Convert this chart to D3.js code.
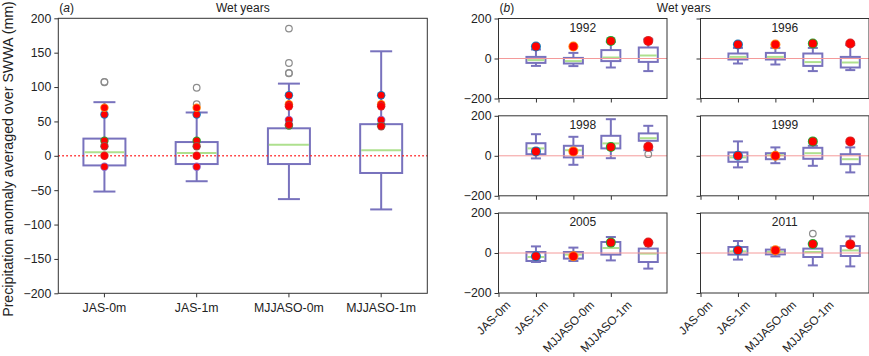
<!DOCTYPE html>
<html>
<head>
<meta charset="utf-8">
<script src="https://cdn.jsdelivr.net/npm/d3@7"></script>
<style>
    body { margin: 0; background: #fff; }
    svg { display: block; font-family: "Liberation Sans", Arial, sans-serif; }
    .frame { fill: none; stroke: #333; stroke-width: 1; }
    .tick line { stroke: #333; }
    .tick text { fill: #222; font-size: 12.3px; }
    .box, .whisker, .cap { fill: none; stroke: #7872bd; stroke-width: 2; }
    .median { stroke: #aee08e; stroke-width: 2; }
    .flier { fill: none; stroke: #8c8c8c; stroke-width: 1.2; }
    .title { font-size: 12px; fill: #222; }
</style>
</head>
<body>
<script>
    // categories and wet years
    const categories = ['JAS-0m', 'JAS-1m', 'MJJASO-0m', 'MJJASO-1m'];
    const years = [1992, 1996, 1998, 1999, 2005, 2011];

    // (a) all-years boxes: [lower whisker, Q1, median, Q3, upper whisker]
    const allBoxes = [
        [-52, -14, 5, 25, 78],
        [-37, -12, 4, 20, 63],
        [-63, -12, 16, 40, 105],
        [-78, -25, 8, 46, 152]
    ];
    const allFliers = [[107, 107.6], [99, 75], [185, 135, 120, 120.6], []];

    // observed anomaly per wet year, one value per category
    const yearObs = [
        [60, 60, 88, 88],
        [70, 70, 75, 75],
        [22, 22, 44, 45],
        [0, 0, 72, 72],
        [-16, -16, 52, 52],
        [14, 14, 45, 43]
    ];

    // (b) boxes per year and category
    const yearBoxes = [
        [[-37, -22, -8, 8, 45], [-38, -25, -13, 3, 28], [-45, -13, 5, 42, 83], [-63, -17, 15, 55, 96]],
        [[-25, -5, 8, 25, 53], [-30, -5, 8, 28, 53], [-63, -37, -18, 25, 53], [-58, -45, -20, 8, 67]],
        [[-13, 8, 37, 63, 108], [-45, -8, 28, 50, 95], [-12, 37, 62, 100, 183], [28, 75, 88, 112, 150]],
        [[-58, -30, -8, 17, 72], [-37, -17, 3, 13, 42], [-50, -15, 13, 40, 50], [-83, -42, -17, 8, 42]],
        [[-45, -40, -20, 5, 33], [-40, -28, -8, 5, 27], [-37, -8, 25, 55, 80], [-78, -45, -3, 22, 52]],
        [[-33, -8, 8, 30, 60], [-17, -7, 5, 17, 27], [-62, -20, 5, 22, 47], [-67, -15, 13, 35, 83]]
    ];
    const yearFliers = [[[], [], [], []], [[], [], [], []], [[], [], [], [8]], [[], [], [], []], [[], [], [], []], [[], [], [97], []]];

    const yTicksA = d3.range(-200, 201, 50);
    const yTicksB = [-200, 0, 200];
    const ringColors = d3.schemeCategory10;

    const svg = d3.select('body').append('svg').attr('width', 869).attr('height', 356);

    function drawBox(g, x, y, d, boxW, capW) {
        const [lo, q1, med, q3, hi] = d;
        g.append('line').attr('class', 'whisker').attr('x1', x).attr('x2', x).attr('y1', y(hi)).attr('y2', y(q3));
        g.append('line').attr('class', 'whisker').attr('x1', x).attr('x2', x).attr('y1', y(q1)).attr('y2', y(lo));
        g.append('line').attr('class', 'cap').attr('x1', x - capW / 2).attr('x2', x + capW / 2).attr('y1', y(hi)).attr('y2', y(hi));
        g.append('line').attr('class', 'cap').attr('x1', x - capW / 2).attr('x2', x + capW / 2).attr('y1', y(lo)).attr('y2', y(lo));
        g.append('rect').attr('class', 'box').attr('x', x - boxW / 2).attr('width', boxW)
            .attr('y', y(q3)).attr('height', y(q1) - y(q3));
        g.append('line').attr('class', 'median').attr('x1', x - boxW / 2 + 1).attr('x2', x + boxW / 2 - 1)
            .attr('y1', y(med)).attr('y2', y(med));
    }

    function drawDot(g, x, y, v, ring, rOut, rIn) {
        g.append('circle').attr('cx', x).attr('cy', y(v)).attr('r', rOut).attr('fill', ring);
        g.append('circle').attr('cx', x).attr('cy', y(v)).attr('r', rIn).attr('fill', '#ff0000');
    }

    // ---------- panel (a) ----------
    const ax = {left: 58.3, right: 427.3, top: 18.3, bottom: 293.3};
    const xA = d3.scaleBand().domain(categories).range([ax.left, ax.right]);
    const yA = d3.scaleLinear().domain([-200, 200]).range([ax.bottom, ax.top]);
    const gA = svg.append('g');

    gA.append('g').attr('transform', 'translate(' + ax.left + ',0)')
        .call(d3.axisLeft(yA).tickValues(yTicksA).tickSize(4).tickPadding(3))
        .call(g => g.select('.domain').remove());
    gA.append('g').attr('transform', 'translate(0,' + ax.bottom + ')')
        .call(d3.axisBottom(xA).tickSize(4).tickPadding(6))
        .call(g => g.select('.domain').remove());

    categories.forEach((c, j) => {
        const cx = xA(c) + xA.bandwidth() / 2;
        drawBox(gA, cx, yA, allBoxes[j], 42, 22);
        allFliers[j].forEach(v => {
            gA.append('circle').attr('class', 'flier').attr('cx', cx).attr('cy', yA(v)).attr('r', 3.3);
        });
    });
    gA.append('line').attr('x1', ax.left).attr('x2', ax.right).attr('y1', yA(0)).attr('y2', yA(0))
        .attr('stroke', '#ff1a1a').attr('stroke-width', 1.5).attr('stroke-dasharray', '1.5,2.5');
    categories.forEach((c, j) => {
        const cx = xA(c) + xA.bandwidth() / 2;
        years.forEach((yr, i) => drawDot(gA, cx, yA, yearObs[i][j], ringColors[i], 4.2, 3.3));
    });
    gA.append('rect').attr('class', 'frame').attr('x', ax.left).attr('y', ax.top)
        .attr('width', ax.right - ax.left).attr('height', ax.bottom - ax.top);

    const tA = gA.append('text').attr('class', 'title').attr('x', ax.left + 1).attr('y', 12);
    tA.append('tspan').text('(');
    tA.append('tspan').attr('font-style', 'italic').text('a');
    tA.append('tspan').text(')');
    gA.append('text').attr('class', 'title').attr('x', (ax.left + ax.right) / 2).attr('y', 12)
        .attr('text-anchor', 'middle').text('Wet years');

    svg.append('text').attr('transform', 'translate(13,159) rotate(-90)')
        .attr('text-anchor', 'middle').attr('font-size', '14.2px').attr('fill', '#222')
        .text('Precipitation anomaly averaged over SWWA (mm)');

    // ---------- panel (b) ----------
    const colX = [498.5, 700.5], colW = 168.5;
    const rowY = [18.5, 115.8, 213], rowH = 80;
    const gB = svg.append('g');

    years.forEach((yr, i) => {
        const col = i % 2, row = Math.floor(i / 2);
        const x0 = colX[col], y0 = rowY[row];
        const x = d3.scaleLinear().domain([0, 4.5]).range([x0, x0 + colW]);
        const y = d3.scaleLinear().domain([-200, 200]).range([y0 + rowH, y0]);
        const g = gB.append('g');

        g.append('g').attr('transform', 'translate(' + x0 + ',0)')
            .call(d3.axisLeft(y).tickValues(yTicksB).tickSize(4).tickPadding(3)
                .tickFormat(col === 0 ? d3.format('d') : ''))
            .call(s => s.select('.domain').remove());
        g.append('g').attr('transform', 'translate(0,' + (y0 + rowH) + ')')
            .call(d3.axisBottom(x).tickValues([0, 1, 2, 3]).tickSize(4).tickFormat(''))
            .call(s => s.select('.domain').remove());

        categories.forEach((c, j) => {
            drawBox(g, x(j + 1), y, yearBoxes[i][j], 19, 10);
        });
        g.append('line').attr('x1', x0).attr('x2', x0 + colW).attr('y1', y(0)).attr('y2', y(0))
            .attr('stroke', '#f49a9a').attr('stroke-width', 1);
        categories.forEach((c, j) => {
            yearFliers[i][j].forEach(v => {
                g.append('circle').attr('class', 'flier').attr('cx', x(j + 1)).attr('cy', y(v)).attr('r', 3.3)
                    .attr('stroke', '#666');
            });
            drawDot(g, x(j + 1), y, yearObs[i][j], ringColors[j], 5, 4);
        });
        g.append('rect').attr('class', 'frame').attr('x', x0).attr('y', y0).attr('width', colW).attr('height', rowH);
        g.append('text').attr('class', 'title').attr('x', x0 + colW / 2).attr('y', y0 + 13)
            .attr('text-anchor', 'middle').text(yr);

        // rotated category labels, only on the bottom row
        if (row === 2) {
            categories.forEach((c, j) => {
                const t = g.append('text').attr('font-size', '11.8px').attr('fill', '#222')
                    .attr('text-anchor', 'middle').attr('dy', '0.35em').text(c);
                const w = t.node().getComputedTextLength();
                const off = (w + 11) * Math.SQRT1_2 / 2;
                t.attr('transform', 'translate(' + (x(j) - 5) + ',' + (y0 + rowH + 6 + off) + ') rotate(-45)');
            });
        }
    });

    const tB = gB.append('text').attr('class', 'title').attr('x', colX[0] + 1).attr('y', 12);
    tB.append('tspan').text('(');
    tB.append('tspan').attr('font-style', 'italic').text('b');
    tB.append('tspan').text(')');
    gB.append('text').attr('class', 'title').attr('x', (colX[0] + colX[1] + colW) / 2).attr('y', 12)
        .attr('text-anchor', 'middle').text('Wet years');
</script>
</body>
</html>
